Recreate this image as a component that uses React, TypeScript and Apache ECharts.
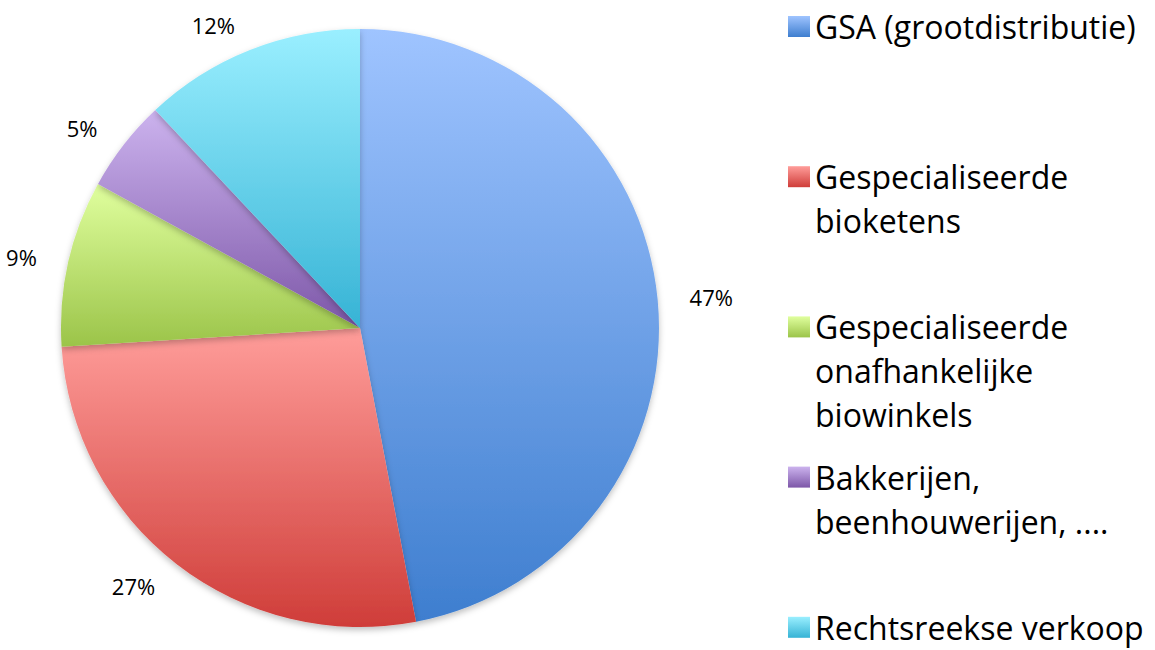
import React, { useEffect, useRef } from "react";
import * as echarts from "echarts";

const categories = [
  "GSA (grootdistributie)",
  "Gespecialiseerde bioketens",
  "Gespecialiseerde onafhankelijke biowinkels",
  "Bakkerijen, beenhouwerijen, ....",
  "Rechtsreekse verkoop",
];
const legendLines = [
  ["GSA (grootdistributie)"],
  ["Gespecialiseerde", "bioketens"],
  ["Gespecialiseerde", "onafhankelijke", "biowinkels"],
  ["Bakkerijen,", "beenhouwerijen, ...."],
  ["Rechtsreekse verkoop"],
];
const shares = [47, 27, 9, 5, 12];
const topColors = ["#9fc4ff", "#ff9d9a", "#e0ff9e", "#ccb3ee", "#9aefff"];
const bottomColors = ["#3e7ecf", "#cf3d39", "#9bc449", "#7d57a8", "#36b3d5"];

const FONT = "Open Sans";

export default function App() {
  const ref = useRef<HTMLDivElement>(null);
  useEffect(() => {
    document.body.style.margin = "0";
    if (!ref.current) return;
    const chart = echarts.init(ref.current, undefined, { renderer: "svg" });
    const grad = (i: number) =>
      new echarts.graphic.LinearGradient(0, 0, 0, 1, [
        { offset: 0, color: topColors[i] },
        { offset: 1, color: bottomColors[i] },
      ]);
    chart.setOption({
      animation: false,
      backgroundColor: "#ffffff",
      legend: legendLines.map((lines, i) => {
        const lh = lines.length === 1 ? 32 : 44;
        return {
          data: [categories[i]],
          left: 788,
          top: 26.5 + i * 150.2 - ((2 * lines.length - 1) * lh) / 2,
          orient: "vertical",
          padding: 0,
          icon: "rect",
          itemWidth: 22,
          itemHeight: 21,
          selectedMode: false,
          formatter: () =>
            new Array(lines.length - 1).fill(" ").concat(lines).join("\n"),
          textStyle: {
            fontFamily: FONT,
            fontSize: 32,
            lineHeight: lh,
            color: "#000",
          },
        };
      }),
      series: [
        {
          type: "pie",
          center: [360, 328],
          radius: 299,
          startAngle: 90,
          clockwise: true,
          avoidLabelOverlap: false,
          emphasis: { disabled: true },
          itemStyle: {
            borderWidth: 0,
            shadowBlur: 6,
            shadowOffsetY: 3,
            shadowColor: "rgba(0,0,0,0.25)",
          },
          label: {
            show: true,
            position: "outside",
            formatter: (p: any) => p.value + "%",
            fontFamily: FONT,
            fontSize: 22,
            color: "#000",
            distanceToLabelLine: 5,
          },
          labelLine: { show: false, length: 27, length2: 0 },
          data: categories.map((name, i) => ({
            name,
            value: shares[i],
            itemStyle: { color: grad(i) },
          })),
        },
      ],
    });
    return () => chart.dispose();
  }, []);
  return <div ref={ref} style={{ width: 1155, height: 650 }} />;
}
